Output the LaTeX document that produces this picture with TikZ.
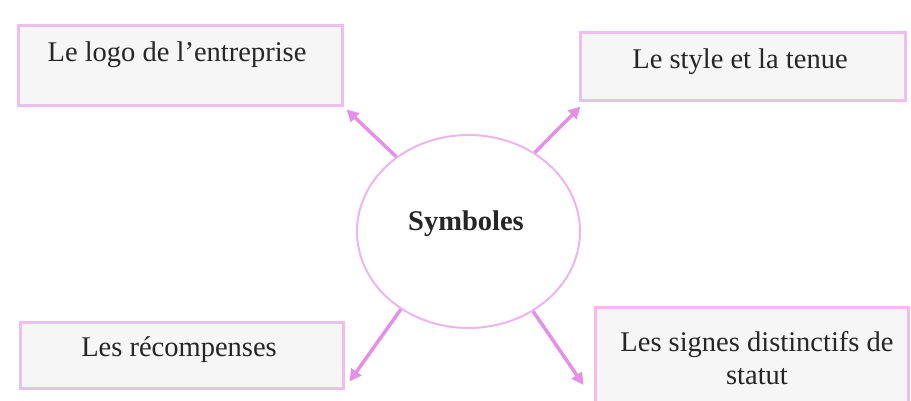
\documentclass[tikz,border=0pt]{standalone}
\usepackage{fontspec}
\setmainfont{Liberation Serif}
\usetikzlibrary{shapes.geometric,arrows.meta}
\definecolor{boxline}{HTML}{F0BDEE}
\definecolor{boxfill}{HTML}{F6F6F6}
\definecolor{arrowcol}{HTML}{E590E6}
\definecolor{circline}{HTML}{EDB5EC}
\tikzset{
  boxst/.style={draw=boxline, line width=3pt, fill=boxfill, inner sep=0pt},
  txt/.style={font=\fontsize{28.5}{33}\selectfont, inner sep=0pt, align=center, text=black!85},
  centre/.style={draw=circline, line width=2pt, ellipse, fill=white, inner sep=0pt,
    minimum width=223pt, minimum height=193pt},
  arr/.style={draw=arrowcol, line width=3.5pt, -{Triangle[length=12pt,width=12pt]}}
}
\begin{document}
\begin{tikzpicture}[x=1pt,y=-1pt]
\useasboundingbox (0,0) rectangle (911,400);
\clip (0,0) rectangle (911,400);
\fill[white] (0,0) rectangle (911,400);
% boxes
\node[boxst, minimum width=324pt, minimum height=80pt] (b1) at (180,65) {};
\node[txt] (t1) at (177,55) {Le logo de l’entreprise};
\node[boxst, minimum width=325pt, minimum height=68pt] (b2) at (742.5,66) {};
\node[txt] (t2) at (740,62) {Le style et la tenue};
\node[boxst, minimum width=323pt, minimum height=66pt] (b3) at (181.5,355) {};
\node[txt] (t3) at (179,350) {Les récompenses};
\node[boxst, minimum width=313pt, minimum height=98pt] (b4) at (751.5,356) {};
\node[txt] (t4) at (757,358) {Les signes distinctifs de\\statut};
% centre
\node[centre] (c) at (468.5,231.5) {};
\node[txt, font=\fontsize{28.5}{33}\selectfont\bfseries] (tc) at (466,224) {Symboles};
% arrows
\coordinate (e1) at ([shift={(3,3)}]b1.south east);
\coordinate (e2) at ([shift={(2,5)}]b2.south west);
\coordinate (e3) at ([shift={(5,-8)}]b3.south east);
\coordinate (e4) at ([shift={(-10,29)}]b4.west);
\draw[arr] (c.134) -- (e1);
\draw[arr] (c.50.6) -- (e2);
\draw[arr] (c.229.5) -- (e3);
\draw[arr] (c.309.7) -- (e4);
\end{tikzpicture}
\end{document}
